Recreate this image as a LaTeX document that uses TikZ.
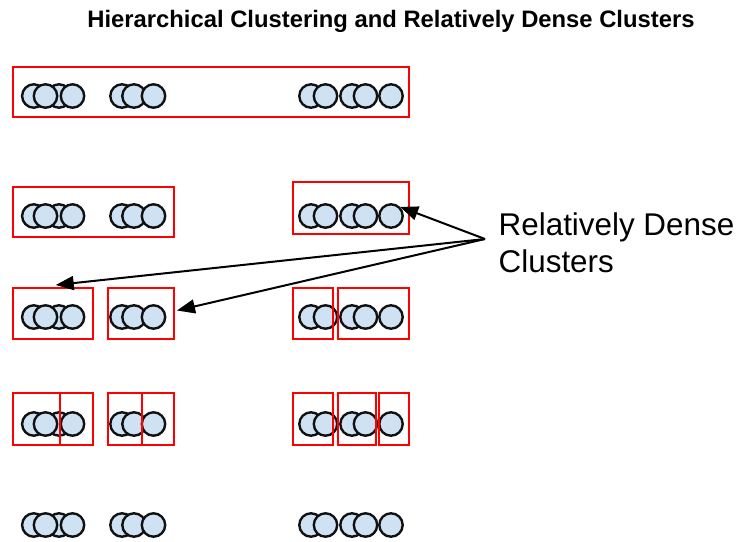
\documentclass[tikz,border=0pt]{standalone}
\usepackage{fontspec}
\setmainfont{Liberation Sans}
\usetikzlibrary{arrows.meta,fit}
\definecolor{dotfill}{HTML}{CFE2F3}
\definecolor{dotline}{HTML}{111111}
\begin{document}
\begin{tikzpicture}[x=1pt,y=-1pt,
  dot/.style={circle,draw=dotline,fill=dotfill,line width=2.4pt,minimum size=23.4pt,inner sep=0pt},
  clus/.style={draw=red,line width=2pt,inner sep=0pt},
  arr/.style={-{Triangle[length=18pt,width=14pt]},line width=2pt,black},
  ttl/.style={font=\fontsize{23.8}{28}\selectfont\bfseries,inner sep=0pt},
  lbl/.style={font=\fontsize{31.4}{37}\selectfont,inner sep=0pt}]
\useasboundingbox (0,0) rectangle (738,541);
% title
\node[ttl,anchor=base] (title) at (391,27.7) {Hierarchical Clustering and Relatively Dense Clusters};
% circles
\foreach \r/\yy in {1/96,2/216,3/317,4/424,5/525}{
  \foreach \i/\xx in {1/33.8,3/59,2/45.5,4/72.5} \node[dot] (g1-\r-\i) at (\xx,\yy) {};
  \foreach \i/\xx in {1/122,2/134,3/153.5} \node[dot] (g2-\r-\i) at (\xx,\yy) {};
  \foreach \i/\xx in {1/311,2/325.5,3/352,4/365.5,5/391} \node[dot] (g3-\r-\i) at (\xx,\yy) {};
}
% row 1
\node[clus,fit={(13,67) (408.5,117.2)}] (b1) {};
% row 2
\node[clus,fit={(13,186.5) (174,237)}] (b2a) {};
\node[clus,fit={(292.5,182) (408.5,233.5)}] (b2b) {};
% row 3
\node[clus,fit={(13,288) (92.5,339)}] (b3a) {};
\node[clus,fit={(108,288) (173.5,339)}] (b3b) {};
\node[clus,fit={(292.5,288) (333.2,339)}] (b3c) {};
\node[clus,fit={(337.5,288) (408.5,339)}] (b3d) {};
% row 4
\node[clus,fit={(13,393) (60,445)}] (b4a) {};
\node[clus,fit={(60,393) (92.5,445)}] (b4b) {};
\node[clus,fit={(108,393) (141.5,445)}] (b4c) {};
\node[clus,fit={(141.5,393) (173.5,445)}] (b4d) {};
\node[clus,fit={(292.5,393) (333.2,445)}] (b4e) {};
\node[clus,fit={(337.8,393) (376,445)}] (b4f) {};
\node[clus,fit={(378.8,393) (408.5,445)}] (b4g) {};
% label
\node[lbl,anchor=base west] (lab1) at (498.5,235) {Relatively Dense};
\node[lbl,anchor=base west] (lab2) at (498.5,272) {Clusters};
% arrows
\coordinate (src) at (485,239);
\draw[arr] (src) -- (g3-2-5.north east);
\draw[arr] (src) -- ([xshift=3pt,yshift=2pt]b3a.north);
\draw[arr] (src) -- ([xshift=2.5pt,yshift=3pt]b3b.east);
\end{tikzpicture}
\end{document}
